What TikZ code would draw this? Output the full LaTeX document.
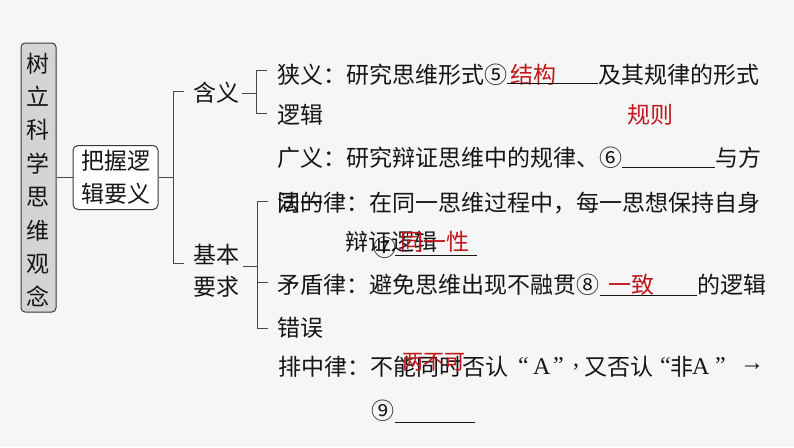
\documentclass[tikz,border=0pt]{standalone}
\usepackage{fontspec}
\setmainfont{Noto Sans CJK SC}
\newfontfamily\sr{Liberation Serif}
\definecolor{bg}{HTML}{F6F6F6}
\definecolor{ink}{HTML}{151515}
\definecolor{ansred}{HTML}{C0161D}
\definecolor{lin}{HTML}{484848}
\definecolor{boxf}{HTML}{D4D4D4}
\definecolor{boxb}{HTML}{3A3A3A}
\begin{document}
\begin{tikzpicture}[x=1pt,y=-1pt,
  txt/.style={anchor=west,inner sep=0pt,font=\fontsize{23}{28}\selectfont,text=ink},
  ans/.style={txt,text=ansred},
  srf/.style={anchor=west,inner sep=0pt,font=\sr\fontsize{24}{28}\selectfont,text=ink},
  ln/.style={draw=lin,line width=0.9pt},
  ul/.style={draw=ink,line width=0.8pt}]
\fill[bg] (0,0) rectangle (794,447);
\useasboundingbox (0,0) rectangle (794,447);

% main boxes
\node[draw=boxb, fill=boxf, rounded corners=4pt, line width=1pt, minimum width=35pt,
      minimum height=269pt, inner sep=0pt] (root) at (38.5,177.5) {};
\node[align=center, inner sep=0pt, text=ink, font=\fontsize{23}{33.4}\selectfont] (roott) at (38.5,180) {树\\立\\科\\学\\思\\维\\观\\念};
\node[draw=boxb, fill=white, rounded corners=5pt, line width=1pt, minimum width=85pt,
      minimum height=64pt, inner sep=0pt, align=center, text=ink,
      font=\fontsize{23}{33}\selectfont] (grasp) at (115.5,177.5) {把握逻\\辑要义};
\draw[ln] (root.east) -- (grasp.west);

% level 2
\node[txt] (hanyi) at (193,93) {含义};
\node[txt, align=left, font=\fontsize{23}{32}\selectfont] (jiben) at (193,271) {基本\\要求};
\coordinate (b1m) at (173,177.5);
\coordinate (b1t) at (173,91);
\coordinate (b1b) at (173,263);
\coordinate (t1a) at (184,91);
\coordinate (t1b) at (184,263);
\draw[ln] (grasp.east) -- (b1m);
\draw[ln] (t1a) -- (b1t) -- (b1b) -- (t1b);

% bracket for 含义
\coordinate (h0) at (242,93);
\coordinate (b2m) at (256,93);
\coordinate (b2t) at (256,70);
\coordinate (b2b) at (256,113);
\coordinate (t2a) at (267,70);
\coordinate (t2b) at (267,113);
\draw[ln] (h0) -- (b2m);
\draw[ln] (t2a) -- (b2t) -- (b2b) -- (t2b);

% bracket for 基本要求
\coordinate (j0) at (243,266);
\coordinate (b3m) at (257,266);
\coordinate (b3t) at (257,201);
\coordinate (b3b) at (257,328);
\coordinate (t3a) at (268,201);
\coordinate (t3m) at (268,282);
\coordinate (t3b) at (268,328);
\coordinate (b3k) at (257,282);
\draw[ln] (j0) -- (b3m);
\draw[ln] (t3a) -- (b3t) -- (b3b) -- (t3b);
\draw[ln] (b3k) -- (t3m);

% 狭义
\node[txt] (n1) at (277,75) {狭义：研究思维形式⑤};
\node[ans] (a5) at (510,75) {结构};
\node[txt] (n1b) at (598,75) {及其规律的形式};
\coordinate (u5a) at (507,83.5);
\coordinate (u5b) at (598,83.5);
\draw[ul] (u5a) -- (u5b);
\node[txt] (n2) at (277,115) {逻辑};
\node[ans] (a6) at (627,115) {规则};

% 广义
\node[txt] (n3) at (277,158) {广义：研究辩证思维中的规律、⑥};
\coordinate (u6a) at (622,167);
\coordinate (u6b) at (715,167);
\draw[ul] (u6a) -- (u6b);
\node[txt] (n3b) at (715,158) {与方};
\node[txt] (n4) at (277,203) {法的};

% 同一律
\node[txt] (n5) at (277,203) {同一律：在同一思维过程中，每一思想保持自身};
\node[txt] (n6) at (345,242) {辩证逻辑};
\node[txt] (c7) at (373,248) {⑦};
\node[ans] (a7) at (400,242) {同一性};
\coordinate (u7a) at (395,255);
\coordinate (u7b) at (477,255);
\draw[ul] (u7a) -- (u7b);

% 矛盾律
\node[txt] (n7) at (277,285) {矛盾律：避免思维出现不融贯⑧};
\node[ans] (a8) at (608,285) {一致};
\coordinate (u8a) at (600,295);
\coordinate (u8b) at (697,295);
\draw[ul] (u8a) -- (u8b);
\node[txt] (n7b) at (697,285) {的逻辑};
\node[txt] (n8) at (277,328) {错误};

% 排中律
\node[txt] (n9) at (278,367) {排中律：不能同时否认};
\node[srf] (q1) at (518,366) {“};
\node[srf] (qa) at (533,367) {A};
\node[srf] (q2) at (553,366) {”};
\node[srf] (cm) at (573,367) {,};
\node[txt] (n9b) at (584,367) {又否认};
\node[srf] (q3) at (660,366) {“};
\node[txt] (n9c) at (670,367) {非};
\node[srf] (qb) at (692,367) {A};
\node[srf] (q4) at (715,366) {”};
\node[srf] (arr) at (740,367) {→};
\node[ans, font=\fontsize{21}{26}\selectfont] (a9) at (402,362) {两不可};
\node[txt] (c9) at (371,411) {⑨};
\coordinate (u9a) at (395,422);
\coordinate (u9b) at (475,422);
\draw[ul] (u9a) -- (u9b);
\end{tikzpicture}
\end{document}
